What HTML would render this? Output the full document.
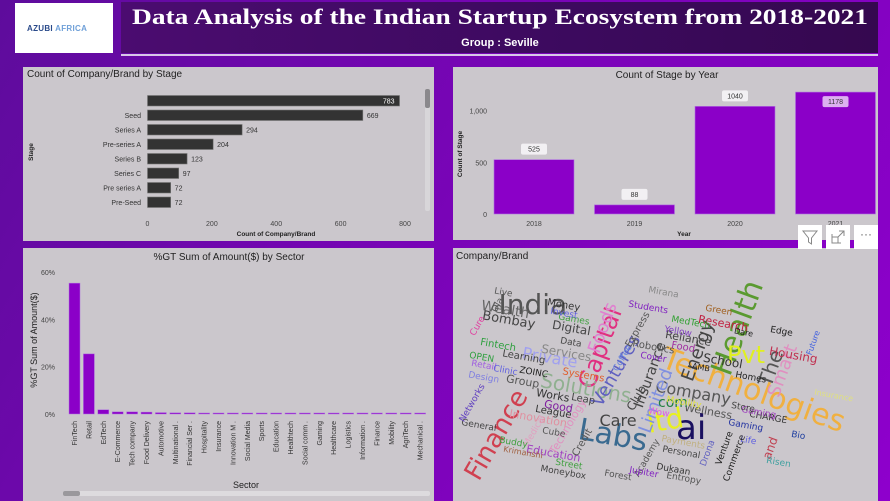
<!DOCTYPE html>
<html><head><meta charset="utf-8">
<style>
*{margin:0;padding:0;box-sizing:border-box}
body{width:890px;height:501px;overflow:hidden;font-family:"Liberation Sans",sans-serif;background:linear-gradient(120deg,#5e0c9c 0%,#7a04b8 50%,#8e00cc 100%);position:relative}
.panel{position:absolute;background:#cbc7cc}
.wc span{position:absolute;white-space:nowrap;transform-origin:center;font-family:"DejaVu Sans",sans-serif;line-height:1}
</style></head><body>
<div style="position:absolute;left:15px;top:3px;width:98px;height:50px;background:#fff;">
 <div style="position:absolute;left:12px;top:21px;font-size:8px;font-weight:bold;color:#2a4a8a;letter-spacing:0.3px">AZUBI <span style="color:#6fa0d8">AFRICA</span></div>
</div>
<div style="position:absolute;left:121px;top:2px;width:757px;height:51px;background:linear-gradient(90deg,#4b0c70,#3c0a5e 60%,#35084f)"></div>
<div style="position:absolute;left:121px;top:54px;width:757px;height:2px;background:#d8c8e8"></div>
<svg width="890" height="60" style="position:absolute;left:0;top:0">
 <text x="132" y="24" textLength="736" lengthAdjust="spacingAndGlyphs" font-family="Liberation Serif" font-weight="bold" font-size="22" fill="#fff">Data Analysis of the Indian Startup Ecosystem from 2018-2021</text>
 <text x="500" y="46" text-anchor="middle" font-family="Liberation Sans" font-weight="bold" font-size="11" fill="#fff">Group  : Seville</text>
</svg>

<div class="panel" style="left:23px;top:67px;width:411px;height:174px"></div>
<svg id="c1" width="890" height="501" style="position:absolute;left:0;top:0"></svg>
<div class="panel" style="left:453px;top:67px;width:425px;height:173px"></div>
<svg id="c2" width="890" height="501" style="position:absolute;left:0;top:0"></svg>
<div class="panel" style="left:23px;top:248px;width:411px;height:253px"></div>
<svg id="c3" width="890" height="501" style="position:absolute;left:0;top:0"></svg>
<div class="panel wc" style="left:453px;top:248px;width:425px;height:253px;overflow:hidden">
 <div style="position:absolute;left:3px;top:3px;font-family:'Liberation Sans';font-size:10px;color:#222">Company/Brand</div>
</div>

<div style="position:absolute;left:798px;top:225px;width:24px;height:24px;background:#fff">
 <svg width="24" height="24"><path d="M5 6 H19 L13.5 13 V19 L10.5 17 V13 Z" fill="none" stroke="#888" stroke-width="1"/></svg></div>
<div style="position:absolute;left:826px;top:225px;width:24px;height:24px;background:#fff">
 <svg width="24" height="24"><path d="M6 9 V18 H15 M6 12 H12 V18 M13 6 H18 V11 M18 6 L12 12" fill="none" stroke="#888" stroke-width="1"/></svg></div>
<div style="position:absolute;left:854px;top:225px;width:24px;height:24px;background:#fff;color:#666;font-size:12px;text-align:center;line-height:18px">···</div>

<script>
const NS="http://www.w3.org/2000/svg";
function mk(svg,tag,attrs,text){const e=document.createElementNS(NS,tag);for(const k in attrs)e.setAttribute(k,attrs[k]);if(text!==undefined)e.textContent=text;svg.appendChild(e);return e;}

const stages=["","Seed","Series A","Pre-series A","Series B","Series C","Pre series A","Pre-Seed"];
const stageCounts=[783,669,294,204,123,97,72,72];
const c1Ticks=[0,200,400,600,800];
const years=["2018","2019","2020","2021"];
const yearCounts=[525,88,1040,1178];
const c2Ticks=[0,500,1000];
const c2TickLabels=["0","500","1,000"];
const sectors=["FinTech","Retail","EdTech","E-Commerce","Tech company","Food Delivery","Automotive","Multinational .","Financial Ser .","Hospitality","Insurance","Innovation M .","Social Media","Sports","Education","Healthtech","Social comm .","Gaming","Healthcare","Logistics","Information .","Finance","Mobility","AgriTech","Mechanical ."];
const sectorPct=[55.3,25.4,1.8,0.9,0.9,0.8,0.6,0.5,0.5,0.4,0.2,0.2,0.2,0.2,0.2,0.2,0.2,0.2,0.2,0.2,0.2,0.2,0.2,0.2,0.2];
const c3Ticks=[0,20,40,60];

(function(){
 const s=document.getElementById('c1');
 const x=v=>147.5+v*(257.5/800);
 const y=i=>95.5+i*14.5;
 let t=mk(s,'text',{x:27,y:77,'font-size':10,fill:'#222','font-family':'Liberation Sans'},'Count of Company/Brand by Stage');
 
 stageCounts.forEach((v,i)=>{
  const r=mk(s,'rect',{x:x(0),y:y(i),width:x(v)-x(0),height:10.5,fill:'#333',stroke:'#777','stroke-width':0.6});
  
  
  const l=mk(s,'text',{x:141,y:y(i)+8,'text-anchor':'end','font-size':7,fill:'#333'},stages[i]);
  
  const inside=i===0;
  const vl=mk(s,'text',{x:inside?x(v)-5:x(v)+4,y:y(i)+8,'text-anchor':inside?'end':'start','font-size':7,fill:inside?'#fff':'#333'},String(v));
  
 });
 c1Ticks.forEach(v=>{const tt=mk(s,'text',{x:x(v),y:226,'text-anchor':'middle','font-size':7,fill:'#444'},String(v));
  });
 t=mk(s,'text',{x:276,y:236,'text-anchor':'middle','font-size':6.5,fill:'#222','font-weight':'bold'},'Count of Company/Brand');
 
 t=mk(s,'text',{x:0,y:0,'text-anchor':'middle','font-size':6.5,fill:'#222','font-weight':'bold',transform:'translate(33,152) rotate(-90)'},'Stage');
 
 const sb=mk(s,'rect',{x:425,y:89,width:5,height:122,fill:'#d8d6d9',rx:2});
 
 const th=mk(s,'rect',{x:425,y:89,width:5,height:19,fill:'#8a888c',rx:2});
 
})();

(function(){
 const s=document.getElementById('c2');
 const y=v=>214-v*0.1035;
 const bx=i=>494+i*100.5;
 let t=mk(s,'text',{x:667,y:78,'text-anchor':'middle','font-size':10,fill:'#222'},'Count of Stage by Year');
 
 c2Ticks.forEach((v,i)=>{const tt=mk(s,'text',{x:487,y:y(v)+3,'text-anchor':'end','font-size':7,fill:'#444'},c2TickLabels[i]);
  });
 yearCounts.forEach((v,i)=>{
  const r=mk(s,'rect',{x:bx(i),y:y(v),width:80,height:214-y(v),fill:'#8b00c8',stroke:'#b070e0','stroke-width':0.6});
  
  const inside=y(v)-18<88;
  const ly=inside?y(v)+4:y(v)-16;
  const bg=mk(s,'rect',{x:bx(i)+27,y:ly,width:26,height:11,rx:2,fill:inside?'#dcb0f0':'#f2f0f3'});
  
  const vl=mk(s,'text',{x:bx(i)+40,y:ly+8,'text-anchor':'middle','font-size':7,fill:'#333'},String(v));
  
  const xl=mk(s,'text',{x:bx(i)+40,y:226,'text-anchor':'middle','font-size':7,fill:'#444'},years[i]);
  
 });
 t=mk(s,'text',{x:684,y:236,'text-anchor':'middle','font-size':6.5,fill:'#222','font-weight':'bold'},'Year');
 
 t=mk(s,'text',{x:0,y:0,'text-anchor':'middle','font-size':6.5,fill:'#222','font-weight':'bold',transform:'translate(462,154) rotate(-90)'},'Count of Stage');
 
})();

(function(){
 const s=document.getElementById('c3');
 const y=v=>414-v*(142/60);
 const bx=i=>69+i*14.4;
 let t=mk(s,'text',{x:229,y:260,'text-anchor':'middle','font-size':10,fill:'#222'},'%GT Sum of Amount($) by Sector');
 
 c3Ticks.forEach(v=>{const tt=mk(s,'text',{x:55,y:y(v)+3,'text-anchor':'end','font-size':7,fill:'#444'},v+'%');
  });
 sectorPct.forEach((v,i)=>{
  const h=Math.max(414-y(v),1);
  const r=mk(s,'rect',{x:bx(i),y:414-h,width:11,height:h,fill:'#8b00c8',stroke:'#b070e0','stroke-width':0.5});
  
  
  const xl=mk(s,'text',{x:0,y:0,'text-anchor':'end','font-size':7,fill:'#333',transform:`translate(${bx(i)+8},${421}) rotate(-90)`},sectors[i]);
  
 });
 t=mk(s,'text',{x:246,y:488,'text-anchor':'middle','font-size':9,fill:'#222'},'Sector');
 
 t=mk(s,'text',{x:0,y:0,'text-anchor':'middle','font-size':9,fill:'#222',transform:'translate(37,340) rotate(-90)'},'%GT Sum of Amount($)');
 
 const sb=mk(s,'rect',{x:63,y:491,width:367,height:5,fill:'#dddbde',rx:2});
 
 const th=mk(s,'rect',{x:63,y:491,width:17,height:5,fill:'#9a989c',rx:2});
 
})();

const words=[
["Technologies",300,143,30,"#f0b040",20],["India",80,57,28,"#555",0],["Health",285,80,30,"#5a9a30",-70],
["Pvt",293,107,24,"#e0f020",0],["ai",238,180,34,"#1a1060",0],["ltd",212,173,28,"#e8f020",-10],
["Labs",160,188,30,"#3a6a90",10],["Finance",43,187,26,"#d04050",-60],["Capital",147,100,24,"#e03080",-70],
["Solutions",133,140,20,"#90b090",10],["Ventures",163,123,18,"#6060c0",-60],["Company",240,145,16,"#555",10],
["Energy",245,103,18,"#444",-70],["The",317,120,20,"#555",-70],["Smart",330,123,18,"#e090c0",-70],
["Limited",203,153,18,"#8090e0",-70],["Foods",150,80,18,"#e080d0",-70],["Private",97,110,16,"#a0a0f0",10],
["Insurance",197,127,14,"#444",-70],["Care",165,173,16,"#444",0],["Wealth",52,62,14,"#666",10],
["Bombay",55,72,13,"#444",10],["Digital",118,80,12,"#444",10],["Services",113,105,12,"#888",10],
["Research",270,75,11,"#c02040",10],["Housing",340,107,12,"#c03050",10],["School",270,113,12,"#333",10],
["Reliance",235,90,11,"#444",10],["Group",70,133,11,"#555",10],["Learning",70,110,10,"#444",10],
["Innovation",85,170,11,"#e090a0",10],["Education",100,205,11,"#a040c0",10],["Wellness",255,163,11,"#555",10],
["com",220,155,14,"#208040",0],["Good",105,158,11,"#8020a0",10],["Club",183,150,12,"#444",-60],
["Fintech",45,98,10,"#30a040",10],["Money",110,58,10,"#333",10],["Games",120,72,9,"#40a040",10],
["Mobility",230,155,9,"#e0e040",10],["Personal",228,205,9,"#444",10],["Payments",230,195,9,"#c0b080",10],
["Systems",130,128,10,"#e06030",10],["Mirana",210,45,9,"#888",10],["Students",195,60,9,"#8020c0",10],
["Technology",115,178,11,"#e090c0",-60],["Medical",82,183,9,"#e0a0c0",-60],["Credit",130,195,10,"#555",-60],
["General",25,178,9,"#444",10],["Networks",20,155,9,"#6040c0",-60],["Design",30,130,9,"#8080e0",10],
["Retail",30,118,9,"#a060e0",10],["OPEN",28,110,9,"#30a040",10],["Cure",25,78,9,"#e040a0",-60],
["Live",50,45,9,"#555",10],["Robotics",200,100,10,"#555",10],["Food",230,100,10,"#a030a0",10],
["Yellow",225,84,9,"#8040c0",10],["MedTech",237,75,9,"#30a030",10],["Edge",328,84,9,"#222",10],
["Homes",297,130,9,"#222",10],["Gaming",292,178,9,"#2030a0",10],["Life",295,193,9,"#6060e0",10],
["CHARGE",315,170,9,"#333",10],["and",317,200,12,"#c04050",-70],["Commerce",282,210,9,"#222",-70],
["Academy",195,210,9,"#555",-60],["Dukaan",220,222,9,"#333",10],["Entropy",230,231,9,"#555",10],
["Leap",130,152,10,"#444",10],["Works",100,147,11,"#333",10],["League",100,165,10,"#333",10],
["Cube",100,185,9,"#555",10],["Street",115,217,9,"#40a040",10],["Moneybox",110,225,9,"#444",10],
["Forest",165,228,9,"#555",10],["Jupiter",190,225,9,"#8020c0",10],["Krimanshi",70,205,8,"#a06040",10],
["Buddy",60,195,9,"#40a040",10],["Venture",272,200,9,"#222",-70],["Drona",255,205,9,"#6060c0",-70],
["Risen",325,215,9,"#40a0a0",10],["Bio",345,188,9,"#2040a0",10],["Future",360,95,8,"#4060e0",-70],
["Insurance",380,148,8,"#e0e080",10],["Green",265,63,9,"#a06020",10],["Invest",110,66,9,"#6060e0",10],
["Clinic",52,123,9,"#6060e0",10],["ZOINC",80,125,9,"#222",10],["Data",118,95,9,"#444",10],
["Coffee",170,110,9,"#6080e0",-60],["Express",185,82,10,"#555",-60],["Cover",200,110,9,"#8020c0",10],
["Gaming",305,165,9,"#a040c0",10],["Store",290,160,9,"#444",10],["Dare",290,85,8,"#222",10],
["Ola",45,57,9,"#555",-60],["Wow",205,165,9,"#e060e0",10],["AMB",248,120,8,"#222",10]
];
(function(){
 const p=document.querySelector('.wc');
 words.forEach(w=>{
  const e=document.createElement('span');
  
  
  e.textContent=w[0];
  e.style.fontSize=w[3]+'px';e.style.color=w[4];
  p.appendChild(e);
  const ww=e.offsetWidth,hh=e.offsetHeight;
  e.style.left=(w[1]-ww/2)+'px';e.style.top=(w[2]-hh/2)+'px';
  e.style.transform='rotate('+w[5]+'deg)';
 });
})();
</script>
</body></html>
